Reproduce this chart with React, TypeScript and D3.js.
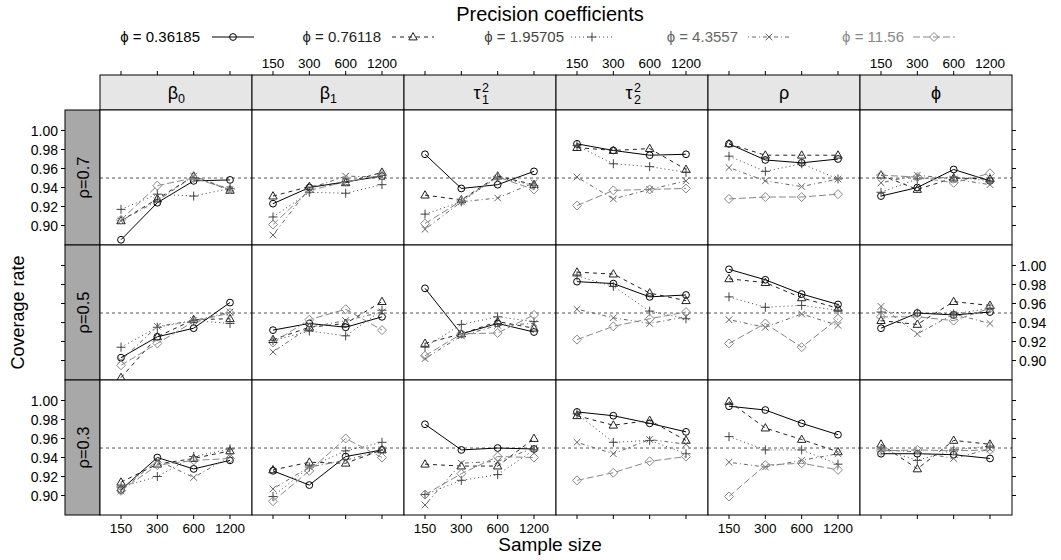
import React from "react";
import * as d3 from "d3";

const sampleSizes = [150, 300, 600, 1200];
const paramKeys = ["beta0", "beta1", "tau1", "tau2", "rho", "phi"];
const rhoLabels = ["ρ=0.7", "ρ=0.5", "ρ=0.3"];
const phiValues = ["0.36185", "0.76118", "1.95705", "4.3557", "11.56"];
const yTicks = [0.9, 0.92, 0.94, 0.96, 0.98, 1.0];
const refLine = 0.95;

// rows: rho=0.7 ; each inner array = one parameter (β0, β1, τ1², τ2², ρ, ϕ) at n = 150, 300, 600, 1200
const r07_s1 = [[0.885, 0.924, 0.947, 0.948], [0.923, 0.94, 0.946, 0.952], [0.975, 0.939, 0.943, 0.957], [0.986, 0.979, 0.974, 0.975], [0.986, 0.969, 0.966, 0.97], [0.931, 0.94, 0.959, 0.947]];
const r07_s2 = [[0.905, 0.928, 0.952, 0.937], [0.931, 0.941, 0.945, 0.956], [0.932, 0.927, 0.952, 0.943], [0.982, 0.979, 0.981, 0.959], [0.986, 0.974, 0.974, 0.974], [0.953, 0.938, 0.95, 0.949]];
const r07_s3 = [[0.917, 0.933, 0.931, 0.939], [0.909, 0.935, 0.934, 0.943], [0.912, 0.925, 0.951, 0.942], [0.984, 0.965, 0.962, 0.956], [0.973, 0.957, 0.965, 0.949], [0.935, 0.949, 0.951, 0.947]];
const r07_s4 = [[0.905, 0.926, 0.952, 0.938], [0.89, 0.939, 0.952, 0.951], [0.896, 0.925, 0.929, 0.945], [0.951, 0.928, 0.938, 0.947], [0.961, 0.947, 0.941, 0.949], [0.945, 0.953, 0.949, 0.943]];
const r07_s5 = [[0.906, 0.942, 0.95, 0.938], [0.901, 0.937, 0.946, 0.953], [0.902, 0.926, 0.951, 0.938], [0.921, 0.937, 0.938, 0.939], [0.928, 0.93, 0.93, 0.933], [0.953, 0.951, 0.945, 0.955]];

// rho=0.5
const r05_s1 = [[0.903, 0.925, 0.934, 0.961], [0.932, 0.939, 0.935, 0.946], [0.976, 0.928, 0.939, 0.93], [0.983, 0.981, 0.967, 0.969], [0.996, 0.985, 0.97, 0.959], [0.934, 0.95, 0.948, 0.951]];
const r05_s2 = [[0.882, 0.925, 0.943, 0.944], [0.922, 0.935, 0.939, 0.962], [0.918, 0.928, 0.941, 0.934], [0.993, 0.991, 0.971, 0.963], [0.986, 0.982, 0.966, 0.955], [0.942, 0.938, 0.962, 0.958]];
const r05_s3 = [[0.914, 0.935, 0.942, 0.939], [0.921, 0.931, 0.926, 0.953], [0.914, 0.938, 0.946, 0.941], [0.989, 0.978, 0.952, 0.944], [0.967, 0.956, 0.958, 0.953], [0.951, 0.95, 0.949, 0.955]];
const r05_s4 = [[0.9, 0.936, 0.942, 0.951], [0.909, 0.935, 0.942, 0.951], [0.902, 0.926, 0.937, 0.939], [0.954, 0.945, 0.939, 0.946], [0.943, 0.935, 0.949, 0.937], [0.957, 0.928, 0.949, 0.939]];
const r05_s5 = [[0.895, 0.918, 0.941, 0.95], [0.919, 0.943, 0.954, 0.932], [0.905, 0.928, 0.929, 0.948], [0.922, 0.936, 0.944, 0.951], [0.918, 0.939, 0.914, 0.944], [0.946, 0.946, 0.942, 0.955]];

// rho=0.3
const r03_s1 = [[0.906, 0.94, 0.928, 0.937], [0.926, 0.911, 0.941, 0.948], [0.975, 0.948, 0.95, 0.949], [0.988, 0.984, 0.976, 0.967], [0.994, 0.99, 0.976, 0.964], [0.944, 0.944, 0.943, 0.939]];
const r03_s2 = [[0.914, 0.933, 0.939, 0.947], [0.927, 0.935, 0.934, 0.948], [0.933, 0.931, 0.931, 0.96], [0.984, 0.974, 0.979, 0.958], [0.999, 0.971, 0.959, 0.946], [0.954, 0.928, 0.958, 0.954]];
const r03_s3 = [[0.909, 0.92, 0.941, 0.949], [0.899, 0.93, 0.947, 0.956], [0.901, 0.916, 0.922, 0.948], [0.986, 0.956, 0.958, 0.944], [0.962, 0.948, 0.948, 0.933], [0.949, 0.937, 0.948, 0.952]];
const r03_s4 = [[0.905, 0.937, 0.919, 0.941], [0.907, 0.93, 0.937, 0.948], [0.89, 0.934, 0.936, 0.95], [0.956, 0.944, 0.959, 0.954], [0.935, 0.93, 0.937, 0.944], [0.948, 0.946, 0.939, 0.949]];
const r03_s5 = [[0.905, 0.932, 0.937, 0.939], [0.894, 0.926, 0.96, 0.94], [0.901, 0.923, 0.941, 0.94], [0.916, 0.924, 0.936, 0.941], [0.899, 0.932, 0.934, 0.927], [0.947, 0.948, 0.947, 0.948]];

const rowsData = [
  [r07_s1, r07_s2, r07_s3, r07_s4, r07_s5],
  [r05_s1, r05_s2, r05_s3, r05_s4, r05_s5],
  [r03_s1, r03_s2, r03_s3, r03_s4, r03_s5],
];

const seriesColors = ["#000000", "#222222", "#444444", "#666666", "#888888"];
const seriesDash = ["", "4,4", "1,3", "1,3,4,3", "7,3"];
const seriesSymbols = ["circle", "triangle", "plus", "times", "diamond"];

const W = 1061;
const H = 560;
const PL = 100;
const PW = 152;
const PT = 110;
const PH = 135;
const STRIP_TOP = 75;
const LSTRIP_L = 65;
const FONT = "'Liberation Sans', Arial, Helvetica, sans-serif";

const x = d3
  .scaleLog()
  .base(2)
  .domain([150 / Math.pow(2, 21 / 36.33), 1200 * Math.pow(2, 22 / 36.33)])
  .range([0, PW]);
const y = d3.scaleLinear().domain([0.8795, 1.0216]).range([PH, 0]);

function Symbol({ type, cx, cy, color }) {
  const common = { fill: "none", stroke: color, strokeWidth: 1 };
  if (type === "circle") return <circle cx={cx} cy={cy} r={3.4} {...common} />;
  if (type === "triangle")
    return <path d={`M${cx},${cy - 4.4}L${cx + 4.2},${cy + 2.9}L${cx - 4.2},${cy + 2.9}Z`} {...common} />;
  if (type === "plus")
    return <path d={`M${cx - 4.5},${cy}H${cx + 4.5}M${cx},${cy - 4.5}V${cy + 4.5}`} {...common} />;
  if (type === "times")
    return <path d={`M${cx - 3.3},${cy - 3.3}L${cx + 3.3},${cy + 3.3}M${cx - 3.3},${cy + 3.3}L${cx + 3.3},${cy - 3.3}`} {...common} />;
  return <path d={`M${cx},${cy - 4.5}L${cx + 4.5},${cy}L${cx},${cy + 4.5}L${cx - 4.5},${cy}Z`} {...common} />;
}

function StripLabel({ k, cx, cy }) {
  const base = { fontFamily: FONT, fontSize: 18, fill: "#000" };
  const small = { fontFamily: FONT, fontSize: 12.5, fill: "#000" };
  if (k === "beta0" || k === "beta1") {
    return (
      <g>
        <text x={cx - 3} y={cy + 6} textAnchor="middle" {...base}>β</text>
        <text x={cx + 2} y={cy + 10} {...small}>{k === "beta0" ? "0" : "1"}</text>
      </g>
    );
  }
  if (k === "tau1" || k === "tau2") {
    return (
      <g>
        <text x={cx - 3} y={cy + 6} textAnchor="middle" {...base}>τ</text>
        <text x={cx + 2} y={cy - 1} {...small}>2</text>
        <text x={cx + 2} y={cy + 11} {...small}>{k === "tau1" ? "1" : "2"}</text>
      </g>
    );
  }
  return (
    <text x={cx} y={cy + 6} textAnchor="middle" {...base}>
      {k === "rho" ? "ρ" : "ϕ"}
    </text>
  );
}

const legendTextEnd = [200, 381, 564, 738, 904];
const legendLineStart = [212, 392, 571, 748, 913];
const LEG_LINE = 42;

export default function App() {
  const line = d3
    .line()
    .x((d) => x(d[0]))
    .y((d) => y(d[1]));

  const nCols = paramKeys.length;
  const nRows = rhoLabels.length;
  const totalBottom = PT + nRows * PH;

  return (
    <svg width={W} height={H} style={{ position: "absolute", left: 0, top: 0, background: "#fff" }} fontFamily={FONT}>
      <rect x={0} y={0} width={W} height={H} fill="#fff" />
      {/* title */}
      <text x={550} y={21} textAnchor="middle" fontSize={20} fill="#000">
        Precision coefficients
      </text>
      {/* legend */}
      {phiValues.map((v, i) => {
        const ly = 37;
        const lx = legendLineStart[i];
        return (
          <g key={"leg" + i}>
            <text x={legendTextEnd[i]} y={ly + 5} textAnchor="end" fontSize={15} fill={seriesColors[i]}>
              {`ϕ = ${v}`}
            </text>
            <line x1={lx} x2={lx + LEG_LINE} y1={ly} y2={ly} stroke={seriesColors[i]} strokeDasharray={seriesDash[i]} />
            <Symbol type={seriesSymbols[i]} cx={lx + LEG_LINE / 2} cy={ly} color={seriesColors[i]} />
          </g>
        );
      })}

      {/* top strips */}
      {paramKeys.map((k, c) => {
        const x0 = PL + c * PW;
        return (
          <g key={"strip" + k}>
            <rect x={x0} y={STRIP_TOP} width={PW} height={PT - STRIP_TOP} fill="#e6e6e6" stroke="#000" />
            <StripLabel k={k} cx={x0 + PW / 2} cy={(STRIP_TOP + PT) / 2} />
            {sampleSizes.map((s) => (
              <line key={s} x1={x0 + x(s)} x2={x0 + x(s)} y1={STRIP_TOP} y2={STRIP_TOP - 4} stroke="#000" />
            ))}
            {c % 2 === 1 &&
              sampleSizes.map((s) => (
                <text key={"tl" + s} x={x0 + x(s)} y={STRIP_TOP - 7} textAnchor="middle" fontSize={13.5}>
                  {s}
                </text>
              ))}
            {sampleSizes.map((s) => (
              <line key={"b" + s} x1={x0 + x(s)} x2={x0 + x(s)} y1={totalBottom} y2={totalBottom + 4} stroke="#000" />
            ))}
            {c % 2 === 0 &&
              sampleSizes.map((s) => (
                <text key={"bl" + s} x={x0 + x(s)} y={totalBottom + 18} textAnchor="middle" fontSize={13.5}>
                  {s}
                </text>
              ))}
          </g>
        );
      })}

      {/* rows */}
      {rhoLabels.map((lab, r) => {
        const y0 = PT + r * PH;
        return (
          <g key={"row" + r}>
            <rect x={LSTRIP_L} y={y0} width={PL - LSTRIP_L} height={PH} fill="#a8a8a8" stroke="#000" />
            <text
              transform={`translate(${(LSTRIP_L + PL) / 2 + 6},${y0 + PH / 2}) rotate(-90)`}
              textAnchor="middle"
              fontSize={16.5}
            >
              {lab}
            </text>
            {yTicks.map((t) => (
              <g key={"yt" + t}>
                <line x1={LSTRIP_L} x2={LSTRIP_L - 4} y1={y0 + y(t)} y2={y0 + y(t)} stroke="#000" />
                <line x1={PL + nCols * PW} x2={PL + nCols * PW + 4} y1={y0 + y(t)} y2={y0 + y(t)} stroke="#000" />
                {r % 2 === 0 ? (
                  <text x={LSTRIP_L - 7} y={y0 + y(t) + 5} textAnchor="end" fontSize={14}>
                    {t.toFixed(2)}
                  </text>
                ) : (
                  <text x={PL + nCols * PW + 7} y={y0 + y(t) + 5} textAnchor="start" fontSize={14}>
                    {t.toFixed(2)}
                  </text>
                )}
              </g>
            ))}
            {paramKeys.map((k, c) => {
              const x0 = PL + c * PW;
              return (
                <g key={"p" + k}>
                  <rect x={x0} y={y0} width={PW} height={PH} fill="#fff" />
                  <line x1={x0} x2={x0 + PW} y1={y0 + y(refLine)} y2={y0 + y(refLine)} stroke="#555" strokeDasharray="3,3" />
                  <g transform={`translate(${x0},${y0})`}>
                    <clipPath id={`clip-${r}-${c}`}>
                      <rect x={0} y={0} width={PW} height={PH} />
                    </clipPath>
                    <g clipPath={`url(#clip-${r}-${c})`}>
                      {rowsData[r].map((series, si) => {
                        const pts = sampleSizes.map((s, j) => [s, series[c][j]]);
                        return (
                          <g key={"s" + si}>
                            <path d={line(pts)} fill="none" stroke={seriesColors[si]} strokeDasharray={seriesDash[si]} />
                            {pts.map((p, j) => (
                              <Symbol key={j} type={seriesSymbols[si]} cx={x(p[0])} cy={y(p[1])} color={seriesColors[si]} />
                            ))}
                          </g>
                        );
                      })}
                    </g>
                  </g>
                  <rect x={x0} y={y0} width={PW} height={PH} fill="none" stroke="#000" />
                </g>
              );
            })}
          </g>
        );
      })}

      {/* axis titles */}
      <text transform={`translate(24,${PT + (nRows * PH) / 2}) rotate(-90)`} textAnchor="middle" fontSize={18}>
        Coverage rate
      </text>
      <text x={550} y={551} textAnchor="middle" fontSize={19}>
        Sample size
      </text>
    </svg>
  );
}
